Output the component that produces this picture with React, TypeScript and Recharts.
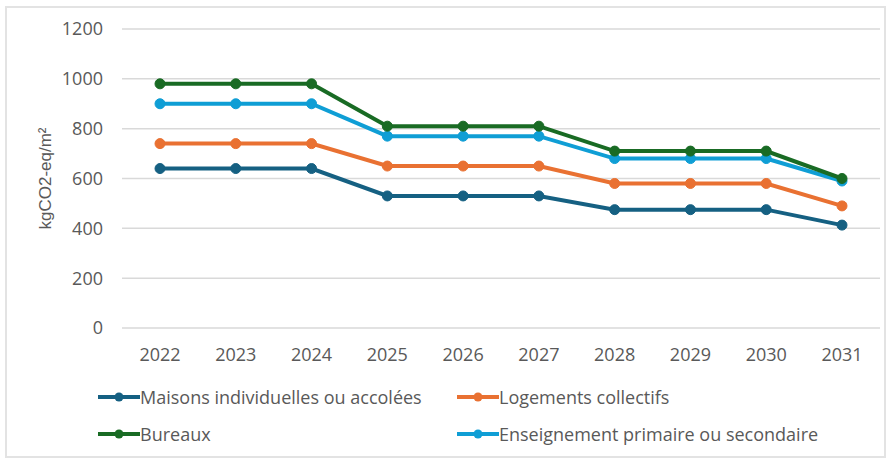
import { LineChart, Line, XAxis, YAxis, CartesianGrid } from 'recharts'

const years = ['2022', '2023', '2024', '2025', '2026', '2027', '2028', '2029', '2030', '2031']

const maisons = [640, 640, 640, 530, 530, 530, 475, 475, 475, 413]
const logements = [740, 740, 740, 650, 650, 650, 580, 580, 580, 490]
const bureaux = [980, 980, 980, 810, 810, 810, 710, 710, 710, 600]
const enseignement = [900, 900, 900, 770, 770, 770, 680, 680, 680, 590]

const yTicks = [0, 200, 400, 600, 800, 1000, 1200]

const series = [
    { key: 'maisons', name: 'Maisons individuelles ou accolées', color: '#156082', values: maisons },
    { key: 'logements', name: 'Logements collectifs', color: '#E97132', values: logements },
    { key: 'bureaux', name: 'Bureaux', color: '#196B24', values: bureaux },
    { key: 'enseignement', name: 'Enseignement primaire ou secondaire', color: '#0F9ED5', values: enseignement },
]

// draw order: the lower lines first so green/blue sit on top
const drawOrder = ['maisons', 'logements', 'enseignement', 'bureaux']

const data = years.map((year, i) => {
    const row: Record<string, string | number> = { year }
    series.forEach((s) => {
        row[s.key] = s.values[i]
    })
    return row
})

const textColor = '#595959'
const font = '"Open Sans", sans-serif'

function LegendItem({ name, color }: { name: string; color: string }) {
    return (
        <div style={{ display: 'flex', alignItems: 'center', height: 24 }}>
            <svg width={42} height={12} style={{ flex: 'none' }}>
                <line x1={0} y1={6} x2={42} y2={6} stroke={color} strokeWidth={4} />
                <circle cx={21} cy={6} r={4.5} fill={color} />
            </svg>
            <span style={{ fontFamily: font, fontSize: 18, color: textColor, whiteSpace: 'nowrap' }}>{name}</span>
        </div>
    )
}

function YLabel(props: any) {
    const vb = props.viewBox
    const cx = 45
    const cy = vb.y + vb.height / 2
    return (
        <text
            x={cx}
            y={cy}
            transform={`rotate(-90 ${cx} ${cy})`}
            textAnchor="middle"
            dominantBaseline="central"
            fill={textColor}
            style={{ fontFamily: '"Liberation Sans", Arial, sans-serif', fontSize: 17 }}
        >
            kgCO2-eq/m²
        </text>
    )
}

export default function App() {
    return (
        <div
            style={{
                position: 'absolute',
                left: 0,
                top: 0,
                width: 889,
                height: 459,
                background: '#ffffff',
            }}
        >
            <div
                style={{
                    position: 'absolute',
                    left: 5,
                    top: 6,
                    width: 877,
                    height: 448,
                    border: '2px solid #e3e3e3',
                }}
            />
            <LineChart
                width={889}
                height={459}
                data={data}
                margin={{ top: 29, right: 9, bottom: 91, left: 0 }}
                style={{ position: 'absolute', left: 0, top: 0 }}
            >
                <CartesianGrid vertical={false} stroke="#d9d9d9" strokeWidth={1.5} />
                <XAxis
                    dataKey="year"
                    axisLine={false}
                    tickLine={false}
                    height={40}
                    padding={{ left: 38, right: 38 }}
                    tickMargin={14}
                    tick={{ fill: textColor, fontFamily: font, fontSize: 18 }}
                />
                <YAxis
                    width={122}
                    domain={[0, 1200]}
                    ticks={yTicks}
                    axisLine={false}
                    tickLine={false}
                    tickMargin={13}
                    tick={{ fill: textColor, fontFamily: font, fontSize: 18 }}
                    label={<YLabel />}
                />
                {drawOrder.map((k) => {
                    const s = series.find((x) => x.key === k)!
                    return (
                        <Line
                            key={s.key}
                            type="linear"
                            dataKey={s.key}
                            name={s.name}
                            stroke={s.color}
                            strokeWidth={4}
                            dot={{ r: 5, fill: s.color, stroke: s.color, strokeWidth: 1 }}
                            isAnimationActive={false}
                        />
                    )
                })}
            </LineChart>
            <div style={{ position: 'absolute', left: 98, top: 385 }}>
                <LegendItem name={series[0].name} color={series[0].color} />
                <div style={{ height: 13 }} />
                <LegendItem name={series[2].name} color={series[2].color} />
            </div>
            <div style={{ position: 'absolute', left: 457, top: 385 }}>
                <LegendItem name={series[1].name} color={series[1].color} />
                <div style={{ height: 13 }} />
                <LegendItem name={series[3].name} color={series[3].color} />
            </div>
        </div>
    )
}
